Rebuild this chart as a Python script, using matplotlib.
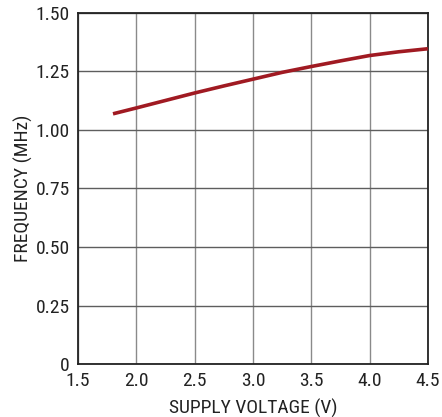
import matplotlib
matplotlib.use("Agg")
import matplotlib.pyplot as plt
from matplotlib import font_manager

names = sorted({f.name for f in font_manager.fontManager.ttflist})
prefs = ["Roboto Condensed", "Liberation Sans Narrow", "Archivo Narrow", "Barlow Semi Condensed"]
fam = next((p for p in prefs if p in names), "DejaVu Sans")
plt.rcParams['font.family'] = [fam, 'DejaVu Sans']

voltage = [1.8, 2.0, 2.25, 2.5, 2.75, 3.0, 3.25, 3.5, 3.75, 4.0, 4.25, 4.5]
frequency = [1.069, 1.094, 1.126, 1.158, 1.188, 1.217, 1.246, 1.271, 1.295, 1.318, 1.334, 1.347]
xticks = [1.5, 2.0, 2.5, 3.0, 3.5, 4.0, 4.5]
xticklabels = ["1.5", "2.0", "2.5", "3.0", "3.5", "4.0", "4.5"]
yticks = [0, 0.25, 0.5, 0.75, 1.0, 1.25, 1.5]
yticklabels = ["0", "0.25", "0.50", "0.75", "1.00", "1.25", "1.50"]

fig = plt.figure(figsize=(4.42, 4.17), dpi=100)
ax = fig.add_axes([0.1765, 0.127, 0.7915, 0.842])
ax.plot(voltage, frequency, color="#a01a22", lw=2.6, solid_capstyle="butt", zorder=3)
ax.set_xlim(1.5, 4.5)
ax.set_ylim(0, 1.5)
ax.set_xticks(xticks)
ax.set_xticklabels(xticklabels)
ax.set_yticks(yticks)
ax.set_yticklabels(yticklabels)
ax.xaxis.grid(True, color="#8a8a8a", lw=1.0)
ax.yaxis.grid(True, color="#5e5e5e", lw=1.0)
ax.tick_params(axis="both", length=0, labelsize=14, colors="#222222")
ax.tick_params(axis="x", pad=6)
ax.tick_params(axis="y", pad=6)
for s in ax.spines.values():
    s.set_color("#222222")
    s.set_linewidth(1.3)
ax.set_xlabel("SUPPLY VOLTAGE (V)", fontsize=14, color="#222222", labelpad=6)
ax.set_ylabel("FREQUENCY (MHz)", fontsize=14, color="#222222", labelpad=2)
fig.savefig("out.png", dpi=100)
